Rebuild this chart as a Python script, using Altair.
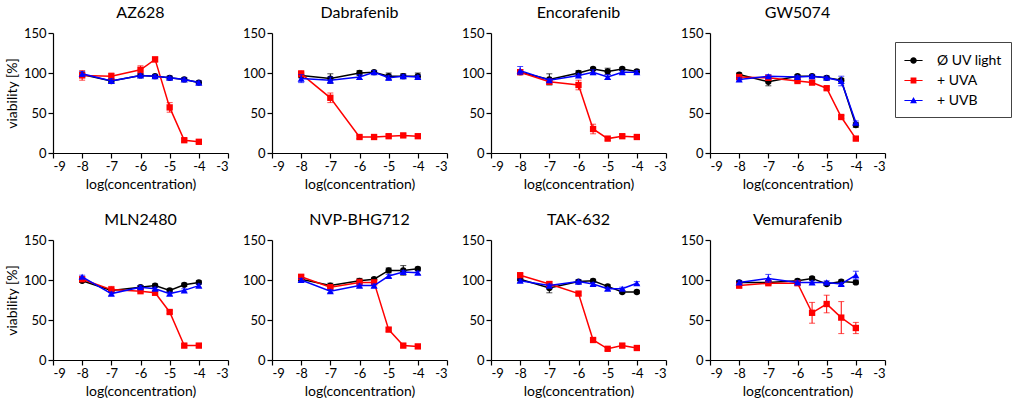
import altair as alt
import pandas as pd

FONT = "Lato"

xs = [-8, -7, -6, -5.5, -5, -4.5, -4]
drugs = ["AZ628", "Dabrafenib", "Encorafenib", "GW5074",
         "MLN2480", "NVP-BHG712", "TAK-632", "Vemurafenib"]
series_names = ["Ø UV light", "+ UVA", "+ UVB"]
series_colors = ["#000000", "#ff0000", "#0000ff"]
series_shapes = ["circle", "square", "triangle-up"]

no_uv = {
    "AZ628":       [98, 90, 97, 96, 94, 92, 88],
    "Dabrafenib":  [97, 93, 100, 101, 96, 96, 96],
    "Encorafenib": [101, 92, 100, 105, 102, 105, 102],
    "GW5074":      [98, 89, 96, 96, 94, 91, 35],
    "MLN2480":     [99, 87, 91, 93, 87, 94, 97],
    "NVP-BHG712":  [101, 93, 99, 101, 112, 112, 114],
    "TAK-632":     [101, 90, 98, 99, 92, 85, 85],
    "Vemurafenib": [97, 97, 99, 102, 95, 98, 97],
}
uva = {
    "AZ628":       [97, 96, 104, 117, 57, 16, 14],
    "Dabrafenib":  [99, 69, 20, 20, 21, 22, 21],
    "Encorafenib": [101, 89, 85, 30, 18, 21, 20],
    "GW5074":      [95, 94, 90, 88, 81, 45, 18],
    "MLN2480":     [101, 88, 86, 84, 60, 18, 18],
    "NVP-BHG712":  [104, 91, 97, 97, 38, 18, 17],
    "TAK-632":     [106, 95, 83, 25, 14, 18, 15],
    "Vemurafenib": [93, 96, 96, 59, 70, 53, 40],
}
uvb = {
    "AZ628":       [99, 90, 97, 96, 94, 92, 88],
    "Dabrafenib":  [93, 91, 95, 101, 94, 96, 95],
    "Encorafenib": [103, 91, 97, 101, 95, 101, 101],
    "GW5074":      [92, 96, 95, 96, 94, 90, 38],
    "MLN2480":     [104, 83, 91, 89, 83, 87, 93],
    "NVP-BHG712":  [100, 86, 93, 93, 105, 110, 109],
    "TAK-632":     [99, 93, 98, 95, 89, 89, 96],
    "Vemurafenib": [97, 102, 97, 97, 97, 95, 106],
}
err_no_uv = {
    "AZ628":       [3, 2, 2, 2, 2, 2, 2],
    "Dabrafenib":  [3, 6, 3, 2, 4, 3, 4],
    "Encorafenib": [3, 7, 3, 2, 4, 2, 2],
    "GW5074":      [2, 5, 2, 2, 2, 2, 3],
    "MLN2480":     [2, 2, 2, 2, 2, 2, 2],
    "NVP-BHG712":  [2, 3, 3, 2, 3, 6, 2],
    "TAK-632":     [2, 6, 2, 2, 2, 2, 2],
    "Vemurafenib": [2, 2, 2, 2, 2, 2, 2],
}
err_uva = {
    "AZ628":       [6, 4, 5, 3, 6, 2, 2],
    "Dabrafenib":  [4, 6, 2, 2, 2, 2, 2],
    "Encorafenib": [3, 3, 6, 6, 2, 2, 2],
    "GW5074":      [2, 2, 2, 2, 2, 2, 2],
    "MLN2480":     [2, 4, 2, 2, 2, 2, 2],
    "NVP-BHG712":  [2, 2, 4, 2, 2, 2, 2],
    "TAK-632":     [2, 3, 2, 2, 2, 2, 2],
    "Vemurafenib": [3, 2, 2, 13, 11, 20, 7],
}
err_uvb = {
    "AZ628":       [3, 3, 2, 2, 2, 2, 2],
    "Dabrafenib":  [5, 4, 3, 2, 3, 2, 2],
    "Encorafenib": [5, 2, 2, 3, 3, 2, 2],
    "GW5074":      [2, 2, 2, 2, 2, 6, 2],
    "MLN2480":     [2, 2, 2, 2, 2, 2, 2],
    "NVP-BHG712":  [2, 2, 2, 2, 2, 2, 2],
    "TAK-632":     [2, 2, 2, 2, 2, 2, 2],
    "Vemurafenib": [2, 5, 2, 2, 2, 2, 5],
}

values = [no_uv, uva, uvb]
errors = [err_no_uv, err_uva, err_uvb]

rows = []
for d in drugs:
    for s, vals, errs in zip(series_names, values, errors):
        for x, v, e in zip(xs, vals[d], errs[d]):
            rows.append({"drug": d, "series": s, "x": x, "y": v,
                         "lo": v - e, "hi": v + e})
df = pd.DataFrame(rows)

# legend symbols: short line with marker on it
legend_paths = [
    "M-1,-0.06 L1,-0.06 L1,0.06 L-1,0.06 Z M0.36,0 A0.36,0.36 0 1,1 -0.36,0 A0.36,0.36 0 1,1 0.36,0 Z",
    "M-1,-0.06 L1,-0.06 L1,0.06 L-1,0.06 Z M-0.32,-0.32 L0.32,-0.32 L0.32,0.32 L-0.32,0.32 Z",
    "M-1,-0.06 L1,-0.06 L1,0.06 L-1,0.06 Z M0,-0.38 L0.38,0.3 L-0.38,0.3 Z",
]

X_SCALE = alt.Scale(domain=[-9, -3], nice=False, zero=False)
Y_SCALE = alt.Scale(domain=[0, 150], nice=False)

LEGEND = alt.Legend(title=None, orient="none", legendX=842, legendY=9,
                    strokeColor="#444444", padding=9,
                    labelFont=FONT, labelFontSize=14, labelColor="black",
                    symbolSize=330, symbolOpacity=1, symbolStrokeWidth=0,
                    rowPadding=3, labelOffset=14)


def panel(drug, first_col, with_legend):
    base = alt.Chart(df).transform_filter(alt.datum.drug == drug)
    xaxis = alt.Axis(values=[-9, -8, -7, -6, -5, -4, -3],
                     labelExpr="'' + datum.value",
                     title="log(concentration)")
    if first_col:
        yaxis = alt.Axis(values=[0, 50, 100, 150], title="viability [%]", labelOverlap=False)
    else:
        yaxis = alt.Axis(values=[0, 50, 100, 150], title=None, labelOverlap=False)
    xenc = alt.X("x:Q", scale=X_SCALE, axis=xaxis)
    layers = []
    for s, c, sh in zip(series_names, series_colors, series_shapes):
        b = base.transform_filter(alt.datum.series == s)
        layers.append(b.mark_line(color=c, strokeWidth=1.5).encode(
            x=xenc, y=alt.Y("y:Q", scale=Y_SCALE, axis=yaxis)))
        layers.append(b.mark_rule(color=c, strokeWidth=1).encode(
            x=xenc, y=alt.Y("lo:Q", scale=Y_SCALE, axis=yaxis), y2="hi:Q"))
        layers.append(b.mark_tick(color=c, orient="horizontal", size=6, thickness=1).encode(
            x=xenc, y=alt.Y("hi:Q", scale=Y_SCALE, axis=yaxis)))
        layers.append(b.mark_tick(color=c, orient="horizontal", size=6, thickness=1).encode(
            x=xenc, y=alt.Y("lo:Q", scale=Y_SCALE, axis=yaxis)))
        size = 50 if sh == "triangle-up" else 40
        layers.append(b.mark_point(color=c, shape=sh, filled=True, opacity=1, size=size).encode(
            x=xenc, y=alt.Y("y:Q", scale=Y_SCALE, axis=yaxis)))
    if with_legend:
        leg = base.transform_filter("false").mark_point(filled=True, opacity=1, size=330).encode(
            color=alt.Color("series:N",
                            scale=alt.Scale(domain=series_names, range=series_colors),
                            legend=LEGEND),
            shape=alt.Shape("series:N",
                            scale=alt.Scale(domain=series_names, range=legend_paths),
                            legend=LEGEND),
        )
        layers.append(leg)
    return alt.layer(*layers).properties(
        width=175, height=120,
        title=alt.TitleParams(drug, font=FONT, fontSize=16, fontWeight="normal",
                              color="black", offset=6, anchor="middle"),
    )


row1 = alt.hconcat(*[panel(d, i == 0, i == 0) for i, d in enumerate(drugs[:4])],
                   spacing=44, bounds="flush")
row2 = alt.hconcat(*[panel(d, i == 0, False) for i, d in enumerate(drugs[4:])],
                   spacing=44, bounds="flush")
chart = alt.vconcat(row1, row2, spacing=21).configure_view(stroke=None).configure_axis(
    grid=False, domainColor="black", tickColor="black", labelColor="black",
    titleColor="black", labelFont=FONT, titleFont=FONT, labelFontSize=13,
    titleFontSize=14, titleFontWeight="normal", tickSize=5, domainWidth=1.2,
    tickWidth=1.2, labelPadding=2, titlePadding=4,
).properties(background="white", padding={"left": 5, "top": 5, "right": 0, "bottom": 5})

chart.save("out.html", embed_options={"renderer": "svg", "actions": False})
